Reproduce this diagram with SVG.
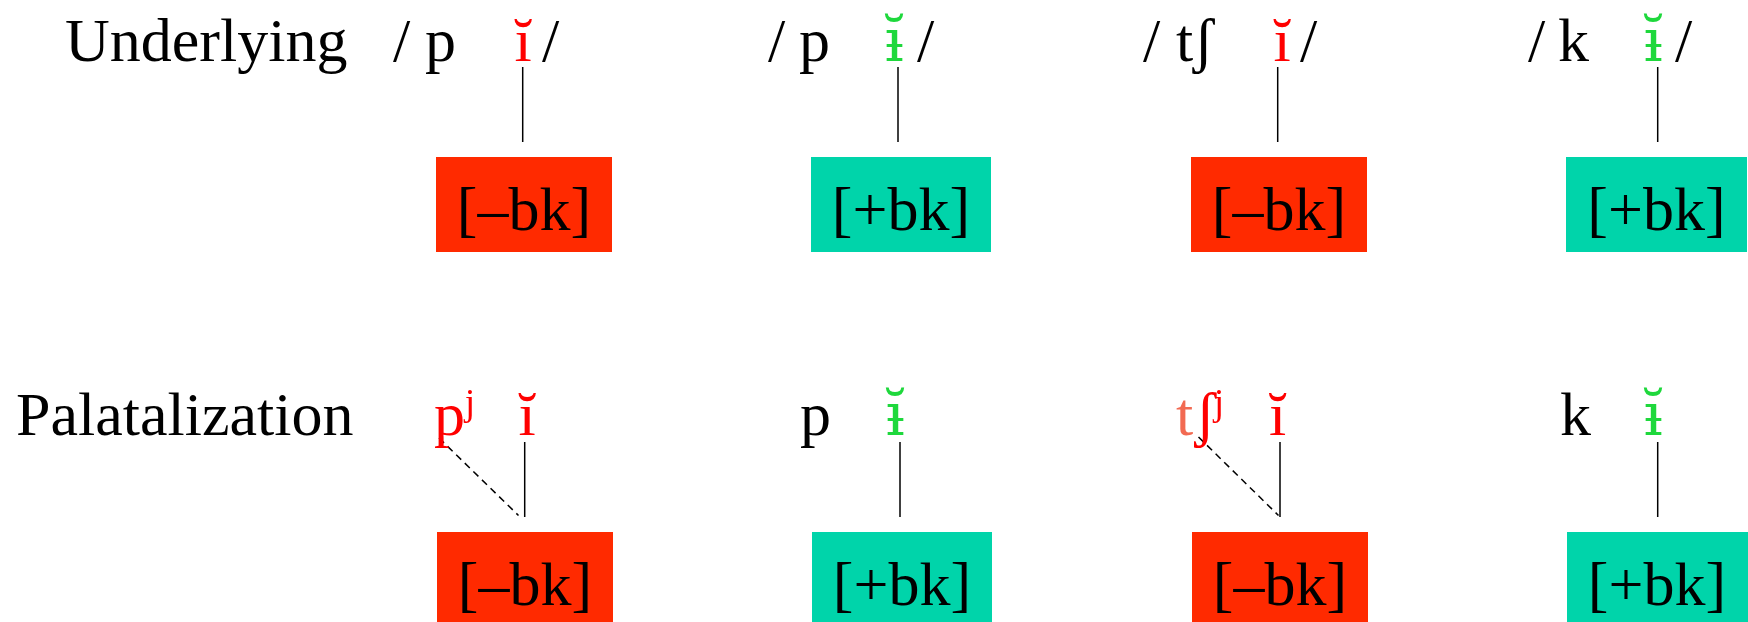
<svg xmlns="http://www.w3.org/2000/svg" width="1748" height="622" viewBox="0 0 1748 622">
<style>
text{font-family:"Liberation Serif","DejaVu Serif",serif;font-size:62px;fill:#000}
.red{fill:#ff0000}
.grn{fill:#1ed83c;font-family:"DejaVu Serif",serif;font-size:60px}
.sal{fill:#f26a52}
.mid{text-anchor:middle}
.sup{font-size:62px}
.bm{fill:#ff2a00}
.bp{fill:#00d4aa}
.ft{font-size:62px;text-anchor:middle}
.ln{stroke:#000;stroke-width:1.5;fill:none}
.dash{stroke:#000;stroke-width:1.5;stroke-dasharray:7 5;fill:none}
</style>
<rect width="1748" height="622" fill="#fff"/>
<g id="labels">
<text x="65" y="61">Underlying</text>
<text x="16" y="435">Palatalization</text>
</g>
<g id="connectors">
<line class="ln" x1="522.7" y1="67" x2="522.7" y2="142"/>
<line class="ln" x1="898" y1="67" x2="898" y2="142"/>
<line class="ln" x1="1277.7" y1="67" x2="1277.7" y2="142"/>
<line class="ln" x1="1657.7" y1="67" x2="1657.7" y2="142"/>
<line class="ln" x1="524.7" y1="442" x2="524.7" y2="517"/>
<line class="ln" x1="900" y1="442" x2="900" y2="517"/>
<line class="ln" x1="1280" y1="442" x2="1280" y2="517"/>
<line class="ln" x1="1657.7" y1="442" x2="1657.7" y2="517"/>
<line class="dash" x1="439" y1="438" x2="518.5" y2="515.5"/>
<line class="dash" x1="1198.5" y1="437" x2="1278.5" y2="515.5"/>
</g>
<g id="u1">
<text x="393" y="61">/</text><text x="425" y="61">p</text><text class="red mid" x="523" y="61">ĭ</text><text x="542" y="61">/</text>
</g>
<g id="u2">
<text x="768" y="61">/</text><text x="799" y="61">p</text><text class="grn mid" x="894" y="61">ɨ̆</text><text x="917" y="61">/</text>
</g>
<g id="u3">
<text x="1143" y="61">/</text><text x="1176" y="61">tʃ</text><text class="red mid" x="1282" y="61">ĭ</text><text x="1300" y="61">/</text>
</g>
<g id="u4">
<text x="1528" y="61">/</text><text x="1558" y="61">k</text><text class="grn mid" x="1653" y="61">ɨ̆</text><text x="1675" y="61">/</text>
</g>
<g id="f1"><rect class="bm" x="436" y="157" width="176" height="95"/><text class="ft" x="524" y="230">[–bk]</text></g>
<g id="f2"><rect class="bp" x="811" y="157" width="180" height="95"/><text class="ft" x="901" y="230">[+bk]</text></g>
<g id="f3"><rect class="bm" x="1191" y="157" width="176" height="95"/><text class="ft" x="1279" y="230">[–bk]</text></g>
<g id="f4"><rect class="bp" x="1566" y="157" width="181" height="95"/><text class="ft" x="1656.5" y="230">[+bk]</text></g>
<g id="p1">
<text class="red" x="434" y="435">p</text><text class="red sup" x="464" y="432">ʲ</text><text class="red mid" x="527" y="435">ĭ</text>
</g>
<g id="p2">
<text x="800" y="435">p</text><text class="grn mid" x="895" y="435">ɨ̆</text>
</g>
<g id="p3">
<text class="sal" x="1176" y="435">t</text><text class="red" x="1195" y="435">ʃ</text><text class="red sup" x="1213" y="432">ʲ</text><text class="red mid" x="1277.5" y="435">ĭ</text>
</g>
<g id="p4">
<text x="1560" y="435">k</text><text class="grn mid" x="1653" y="435">ɨ̆</text>
</g>
<g id="g1"><rect class="bm" x="437" y="532" width="176" height="95"/><text class="ft" x="525" y="605">[–bk]</text></g>
<g id="g2"><rect class="bp" x="812" y="532" width="180" height="95"/><text class="ft" x="902" y="605">[+bk]</text></g>
<g id="g3"><rect class="bm" x="1192" y="532" width="176" height="95"/><text class="ft" x="1280" y="605">[–bk]</text></g>
<g id="g4"><rect class="bp" x="1567" y="532" width="181" height="95"/><text class="ft" x="1657" y="605">[+bk]</text></g>
</svg>
